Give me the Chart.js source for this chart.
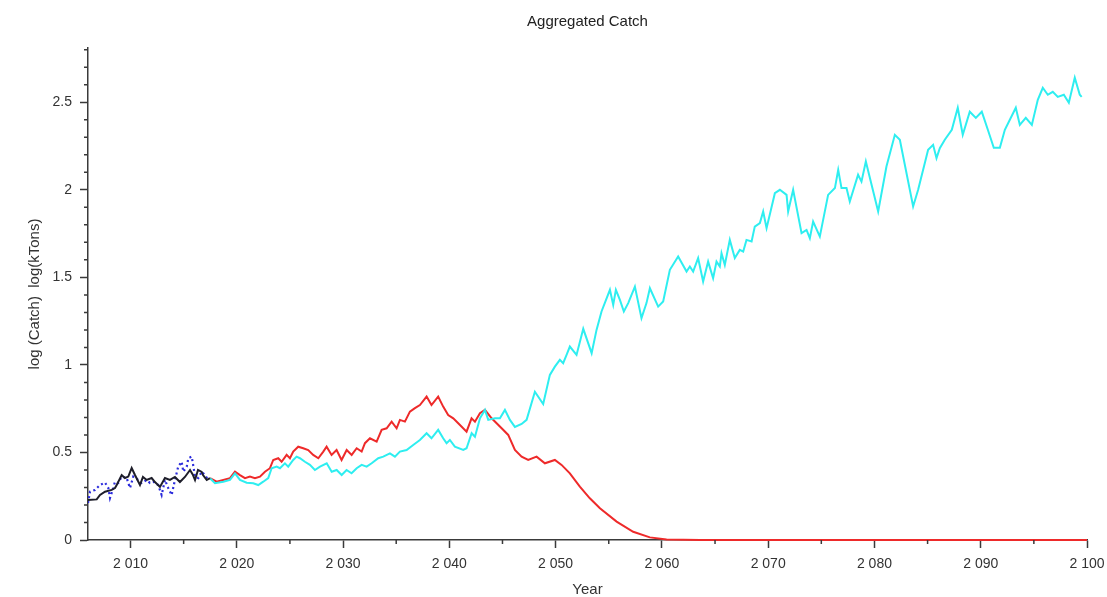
<!DOCTYPE html>
<html>
<head>
<meta charset="utf-8">
<script src="https://cdn.jsdelivr.net/npm/chart.js@4.4.1/dist/chart.umd.min.js"></script>
<style>
  html, body { margin: 0; padding: 0; background: #ffffff; }
  #wrap { width: 1107px; height: 597px; position: relative; }
</style>
</head>
<body>
<div id="wrap"><canvas id="c" width="1107" height="597"></canvas></div>
<script>
// ---- Data ----
const chartTitle = 'Aggregated Catch';
const xTitle = 'Year';
const yTitle = 'log (Catch)  log(kTons)';

const yTickLabels = ['0', '0.5', '1', '1.5', '2', '2.5'];

const blackYears = [2006.0, 2006.82, 2007.13, 2007.6, 2008.23, 2008.54, 2008.7, 2009.17, 2009.48, 2009.79, 2010.11, 2010.42, 2010.89, 2011.17, 2011.52, 2011.99, 2012.3, 2012.77, 2013.24, 2013.71, 2014.18, 2014.65, 2015.12, 2015.6, 2015.88, 2016.07, 2016.35, 2016.7, 2016.82, 2017.17, 2017.48];
const blackValues = [0.229, 0.232, 0.257, 0.276, 0.286, 0.297, 0.314, 0.371, 0.354, 0.362, 0.411, 0.371, 0.314, 0.36, 0.343, 0.354, 0.331, 0.303, 0.354, 0.343, 0.36, 0.331, 0.36, 0.4, 0.371, 0.343, 0.4, 0.389, 0.371, 0.343, 0.354];

const blueYears = [2006.0, 2006.19, 2006.66, 2007.13, 2007.6, 2007.91, 2008.07, 2008.38, 2008.54, 2008.85, 2009.17, 2009.64, 2009.95, 2010.26, 2010.73, 2011.05, 2011.52, 2011.83, 2012.14, 2012.61, 2012.93, 2013.24, 2013.55, 2013.87, 2014.18, 2014.49, 2014.81, 2014.97, 2015.29, 2015.44, 2015.76, 2015.92, 2016.07, 2016.38, 2016.7, 2017.0, 2017.32];
const blueValues = [0.211, 0.276, 0.286, 0.314, 0.328, 0.297, 0.24, 0.297, 0.333, 0.326, 0.362, 0.354, 0.297, 0.362, 0.343, 0.326, 0.343, 0.326, 0.333, 0.314, 0.257, 0.343, 0.297, 0.257, 0.343, 0.419, 0.447, 0.39, 0.419, 0.467, 0.476, 0.419, 0.362, 0.354, 0.39, 0.371, 0.343];

const cyanYears = [2017.48, 2017.95, 2018.73, 2019.36, 2019.83, 2020.3, 2020.93, 2021.55, 2022.02, 2022.49, 2022.96, 2023.28, 2023.75, 2024.06, 2024.53, 2024.84, 2025.31, 2025.63, 2025.94, 2026.41, 2026.88, 2027.35, 2027.83, 2028.46, 2028.93, 2029.4, 2029.87, 2030.33, 2030.8, 2031.28, 2031.75, 2032.22, 2032.69, 2033.31, 2033.78, 2034.41, 2034.88, 2035.35, 2035.98, 2036.6, 2037.23, 2037.86, 2038.32, 2038.95, 2039.42, 2039.74, 2040.05, 2040.52, 2041.31, 2041.62, 2042.1, 2042.41, 2042.88, 2043.35, 2043.66, 2044.29, 2044.76, 2045.23, 2045.7, 2046.17, 2046.8, 2047.27, 2048.05, 2048.83, 2049.46, 2049.93, 2050.4, 2050.71, 2051.03, 2051.34, 2051.97, 2052.6, 2053.39, 2053.85, 2054.32, 2055.11, 2055.42, 2055.67, 2056.05, 2056.42, 2056.83, 2057.46, 2058.08, 2058.55, 2058.87, 2059.65, 2060.12, 2060.75, 2061.53, 2062.32, 2062.63, 2062.94, 2063.41, 2063.88, 2064.35, 2064.82, 2065.14, 2065.45, 2065.61, 2065.92, 2066.39, 2066.86, 2067.33, 2067.65, 2067.96, 2068.44, 2068.74, 2069.22, 2069.53, 2069.85, 2070.63, 2071.1, 2071.73, 2071.88, 2072.35, 2073.14, 2073.61, 2073.92, 2074.23, 2074.86, 2075.64, 2076.28, 2076.59, 2076.9, 2077.37, 2077.68, 2078.46, 2078.78, 2079.19, 2080.35, 2081.13, 2081.92, 2082.39, 2083.64, 2084.11, 2084.74, 2085.05, 2085.52, 2085.84, 2086.15, 2086.62, 2087.28, 2087.84, 2088.31, 2088.97, 2089.54, 2090.1, 2090.67, 2091.23, 2091.8, 2092.27, 2092.74, 2093.3, 2093.68, 2094.24, 2094.81, 2095.37, 2095.84, 2096.31, 2096.78, 2097.25, 2097.82, 2098.29, 2098.85, 2099.32, 2099.5];
const cyanValues = [0.353, 0.324, 0.333, 0.343, 0.381, 0.343, 0.327, 0.324, 0.314, 0.333, 0.353, 0.41, 0.419, 0.41, 0.438, 0.419, 0.457, 0.476, 0.467, 0.447, 0.429, 0.4, 0.419, 0.438, 0.39, 0.4, 0.371, 0.4, 0.381, 0.41, 0.429, 0.419, 0.438, 0.467, 0.476, 0.495, 0.476, 0.505, 0.514, 0.543, 0.571, 0.61, 0.581, 0.629, 0.581, 0.553, 0.571, 0.533, 0.514, 0.524, 0.61, 0.59, 0.695, 0.743, 0.686, 0.695, 0.695, 0.743, 0.686, 0.646, 0.663, 0.686, 0.847, 0.777, 0.943, 0.99, 1.029, 1.01, 1.057, 1.105, 1.057, 1.206, 1.067, 1.2, 1.305, 1.429, 1.343, 1.429, 1.371, 1.305, 1.353, 1.447, 1.267, 1.353, 1.438, 1.333, 1.362, 1.543, 1.619, 1.533, 1.562, 1.533, 1.61, 1.476, 1.59, 1.495, 1.59, 1.562, 1.638, 1.571, 1.714, 1.61, 1.657, 1.647, 1.714, 1.705, 1.79, 1.81, 1.876, 1.781, 1.981, 2.0, 1.971, 1.876, 2.0, 1.753, 1.771, 1.724, 1.819, 1.733, 1.971, 2.01, 2.114, 2.01, 2.01, 1.933, 2.086, 2.047, 2.162, 1.876, 2.133, 2.314, 2.286, 1.905, 2.0, 2.153, 2.229, 2.257, 2.181, 2.238, 2.286, 2.343, 2.469, 2.314, 2.446, 2.411, 2.446, 2.343, 2.24, 2.24, 2.343, 2.4, 2.469, 2.371, 2.411, 2.371, 2.514, 2.583, 2.543, 2.56, 2.531, 2.543, 2.497, 2.64, 2.543, 2.531];

const redYears = [2017.48, 2018.1, 2018.73, 2019.36, 2019.83, 2020.3, 2020.77, 2021.24, 2021.71, 2022.18, 2022.65, 2023.12, 2023.43, 2023.9, 2024.22, 2024.69, 2025.0, 2025.31, 2025.78, 2026.25, 2026.72, 2027.19, 2027.67, 2028.14, 2028.45, 2028.92, 2029.39, 2029.86, 2030.34, 2030.81, 2031.28, 2031.75, 2032.06, 2032.53, 2033.16, 2033.63, 2034.1, 2034.57, 2035.04, 2035.35, 2035.82, 2036.29, 2036.76, 2037.23, 2037.86, 2038.32, 2038.95, 2039.42, 2039.89, 2040.37, 2041.0, 2041.62, 2042.09, 2042.41, 2042.88, 2043.35, 2043.98, 2044.92, 2045.54, 2046.17, 2046.8, 2047.42, 2048.21, 2048.99, 2049.93, 2050.56, 2051.34, 2052.28, 2053.22, 2054.17, 2055.74, 2057.3, 2058.87, 2060.44, 2063.6, 2070, 2080, 2090, 2100];
const redValues = [0.353, 0.333, 0.343, 0.353, 0.39, 0.371, 0.353, 0.362, 0.353, 0.362, 0.39, 0.41, 0.457, 0.467, 0.447, 0.486, 0.467, 0.505, 0.533, 0.524, 0.514, 0.486, 0.467, 0.505, 0.533, 0.486, 0.514, 0.457, 0.514, 0.486, 0.524, 0.505, 0.553, 0.581, 0.562, 0.629, 0.638, 0.676, 0.638, 0.686, 0.676, 0.733, 0.753, 0.771, 0.819, 0.771, 0.819, 0.762, 0.714, 0.695, 0.657, 0.619, 0.695, 0.676, 0.724, 0.743, 0.695, 0.638, 0.6, 0.514, 0.476, 0.457, 0.476, 0.438, 0.457, 0.429, 0.381, 0.305, 0.238, 0.181, 0.105, 0.047, 0.015, 0.003, 0.0005, 0, 0, 0, 0];

// ---- helpers ----
function pts(xs, ys) { return xs.map((x, i) => ({ x: x, y: ys[i] })); }
function fmtYear(v) { return String(v).replace(/(\d)(\d{3})$/, '$1 $2'); }

const FONT = "'Liberation Sans', Arial, Helvetica, sans-serif";
const AXIS_COLOR = '#3a3a3a';

const minorTicks = {
  id: 'minorTicks',
  afterDraw(chart) {
    const { ctx, scales } = chart;
    const x = scales.x, y = scales.y;
    ctx.save();
    ctx.strokeStyle = AXIS_COLOR;
    ctx.lineWidth = 1.5;
    ctx.beginPath();
    for (let k = 1; k <= 28; k++) {
      if (k % 5 === 0) continue;
      const py = y.getPixelForValue(k / 10);
      ctx.moveTo(x.left - 4, py);
      ctx.lineTo(x.left, py);
    }
    for (let v = 2015; v < 2100; v += 10) {
      const px = x.getPixelForValue(v);
      ctx.moveTo(px, y.bottom);
      ctx.lineTo(px, y.bottom + 4);
    }
    ctx.stroke();
    ctx.restore();
  }
};

new Chart(document.getElementById('c'), {
  type: 'line',
  data: {
    datasets: [
      { label: 'observed', data: pts(blackYears, blackValues), borderColor: '#1e1e2a', borderWidth: 2, order: 1 },
      { label: 'model fit', data: pts(blueYears, blueValues), borderColor: '#2b2bdc', borderWidth: 2.2, borderDash: [2, 3], order: 2 },
      { label: 'scenario A', data: pts(cyanYears, cyanValues), borderColor: '#2eeef0', borderWidth: 2, order: 3 },
      { label: 'scenario B', data: pts(redYears, redValues), borderColor: '#ee2a2a', borderWidth: 2, order: 4, clip: 3 }
    ]
  },
  options: {
    responsive: false,
    animation: false,
    devicePixelRatio: 1,
    layout: { padding: { left: 0, right: 20, top: 0, bottom: 0 } },
    elements: { point: { radius: 0 }, line: { tension: 0 } },
    plugins: {
      legend: { display: false },
      tooltip: { enabled: false },
      title: {
        display: true,
        fullSize: false,
        text: chartTitle,
        color: '#222',
        font: { family: FONT, size: 15, weight: 'normal' },
        padding: { top: 13, bottom: 17 }
      }
    },
    scales: {
      x: {
        type: 'linear',
        min: 2006,
        max: 2100,
        afterFit(scale) { scale.height = 57; scale.paddingRight = 0; scale.paddingLeft = 0; },
        ticks: {
          stepSize: 10,
          includeBounds: false,
          color: '#333',
          padding: 8,
          maxRotation: 0,
          font: { family: FONT, size: 14 },
          callback: (v) => fmtYear(v)
        },
        grid: { drawOnChartArea: false, tickLength: 8, tickColor: AXIS_COLOR, tickWidth: 1.5 },
        border: { color: AXIS_COLOR, width: 1.5 },
        title: { display: true, text: xTitle, color: '#333', font: { family: FONT, size: 15, lineHeight: 1 }, padding: { top: 0, bottom: 0 } }
      },
      y: {
        type: 'linear',
        min: 0,
        max: 2.81,
        afterFit(scale) { scale.width = 88; },
        ticks: {
          stepSize: 0.5,
          includeBounds: false,
          color: '#333',
          padding: 8,
          font: { family: FONT, size: 14 },
          callback: (v) => yTickLabels[Math.round(v * 2)] ?? ''
        },
        grid: { drawOnChartArea: false, tickLength: 8, tickColor: AXIS_COLOR, tickWidth: 1.5 },
        border: { color: AXIS_COLOR, width: 1.5 },
        title: { display: true, text: yTitle, color: '#333', font: { family: FONT, size: 15 }, padding: { top: 26, bottom: 26 } }
      }
    }
  },
  plugins: [minorTicks]
});
</script>
</body>
</html>
